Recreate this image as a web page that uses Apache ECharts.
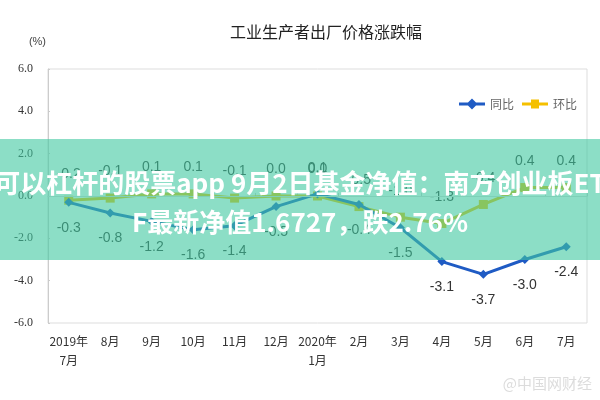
<!DOCTYPE html>
<html>
<head>
<meta charset="utf-8">
<script src="https://cdn.jsdelivr.net/npm/echarts@6/dist/echarts.min.js"></script>
<style>html,body{margin:0;padding:0;background:#fff}#c{width:600px;height:400px}</style>
</head>
<body>
<div id="c"></div>
<script>
const categories = ['2019年\n7月','8月','9月','10月','11月','12月','2020年\n1月','2月','3月','4月','5月','6月','7月'];
const yoyName = '同比';
const momName = '环比';
const yoyValues = [-0.3, -0.8, -1.2, -1.6, -1.4, -0.5, 0.1, -0.4, -1.5, -3.1, -3.7, -3.0, -2.4];
const momValues = [-0.2, -0.1, 0.1, 0.1, -0.1, 0.0, 0.0, -0.5, -1.0, -1.3, -0.4, 0.4, 0.4];
const yMin = -6, yMax = 6, yInterval = 2;
const titleText = '工业生产者出厂价格涨跌幅';
const unitText = '(%)';
const bannerLine1 = '可以杠杆的股票app 9月2日基金净值：南方创业板ET';
const bannerLine2 = 'F最新净值1.6727，跌2.76%';
const watermarkText = '@中国网财经';

const chart = echarts.init(document.getElementById('c'), null, {renderer: 'canvas'});
const fmt = p => Number(p.value).toFixed(1);
const yoyData = yoyValues.map(v => ({value: v, label: {position: v >= 0 ? 'top' : 'bottom'}}));

chart.setOption({
  animation: false,
  backgroundColor: '#fff',
  title: {
    text: titleText, left: 225, top: 19,
    textStyle: {fontSize: 16, fontWeight: 'normal', color: '#222', fontFamily: '"Noto Sans CJK SC", sans-serif'}
  },
  legend: {
    data: [
      {name: yoyName, icon: 'path://M0,4L9,4L13,0L17,4L26,4L26,7L17,7L13,11L9,7L0,7Z'},
      {name: momName, icon: 'path://M0,4L9,4L9,1L17,1L17,4L26,4L26,7L17,7L17,10L9,10L9,7L0,7Z'}
    ],
    right: 18, top: 93, itemWidth: 26, itemHeight: 11, itemGap: 8,
    textStyle: {fontSize: 12, color: '#666', fontFamily: '"Noto Sans CJK SC", sans-serif'}
  },
  grid: {left: 48, right: 13, top: 69, bottom: 77, show: true, borderColor: '#ddd', borderWidth: 1},
  xAxis: {
    type: 'category', data: categories, boundaryGap: true,
    axisLine: {show: true, lineStyle: {color: '#ccc'}},
    axisTick: {show: true, inside: true, length: 3, lineStyle: {color: '#ccc'}},
    axisLabel: {color: '#333', fontSize: 12, margin: 9, lineHeight: 19, fontFamily: '"Noto Sans CJK SC", sans-serif', interval: 0}
  },
  yAxis: {
    type: 'value', min: yMin, max: yMax, interval: yInterval,
    name: unitText, nameLocation: 'end', nameGap: 22,
    nameTextStyle: {color: '#444', fontSize: 11, align: 'right', padding: [0, 2, 0, 0]},
    axisLine: {show: true, lineStyle: {color: '#ccc'}},
    axisTick: {show: true, inside: true, length: 2, lineStyle: {color: '#ccc'}},
    splitLine: {show: false},
    axisLabel: {color: '#333', fontSize: 12, margin: 15, formatter: v => v.toFixed(1), fontFamily: '"Liberation Serif", serif'}
  },
  series: [
    {
      name: yoyName, type: 'line', data: yoyData,
      symbol: 'diamond', symbolSize: 9,
      lineStyle: {color: '#1f5bc4', width: 3},
      itemStyle: {color: '#1f5bc4'},
      label: {show: true, distance: 14, formatter: fmt, fontSize: 14, color: '#333', fontFamily: '"Liberation Sans", Arial, sans-serif'},
      markLine: {silent: true, symbol: 'none', label: {show: false}, lineStyle: {color: '#ddd', type: 'solid', width: 1}, data: [{yAxis: 0}]},
      z: 3
    },
    {
      name: momName, type: 'line', data: momValues,
      symbol: 'rect', symbolSize: 9,
      lineStyle: {color: '#f5c000', width: 3},
      itemStyle: {color: '#f5c000'},
      label: {show: true, position: 'top', distance: 15, formatter: fmt, fontSize: 14, color: '#333', fontFamily: '"Liberation Sans", Arial, sans-serif'},
      z: 2
    }
  ],
  graphic: [
    {type: 'rect', left: 0, top: 139, z: 100, shape: {width: 600, height: 121}, style: {fill: 'rgba(64,200,160,0.6)'}},
    {type: 'text', x: 300, y: 164, z: 101, style: {text: bannerLine1 + '\n' + bannerLine2, fill: '#fff', font: 'bold 26px "Noto Sans CJK SC", sans-serif', align: 'center', verticalAlign: 'top', lineHeight: 39}},
    {type: 'text', x: 592, y: 376, z: 101, style: {text: watermarkText, fill: '#dcdcdc', font: '15px "Noto Sans CJK SC", sans-serif', align: 'right', verticalAlign: 'top'}}
  ]
});
</script>
</body>
</html>
